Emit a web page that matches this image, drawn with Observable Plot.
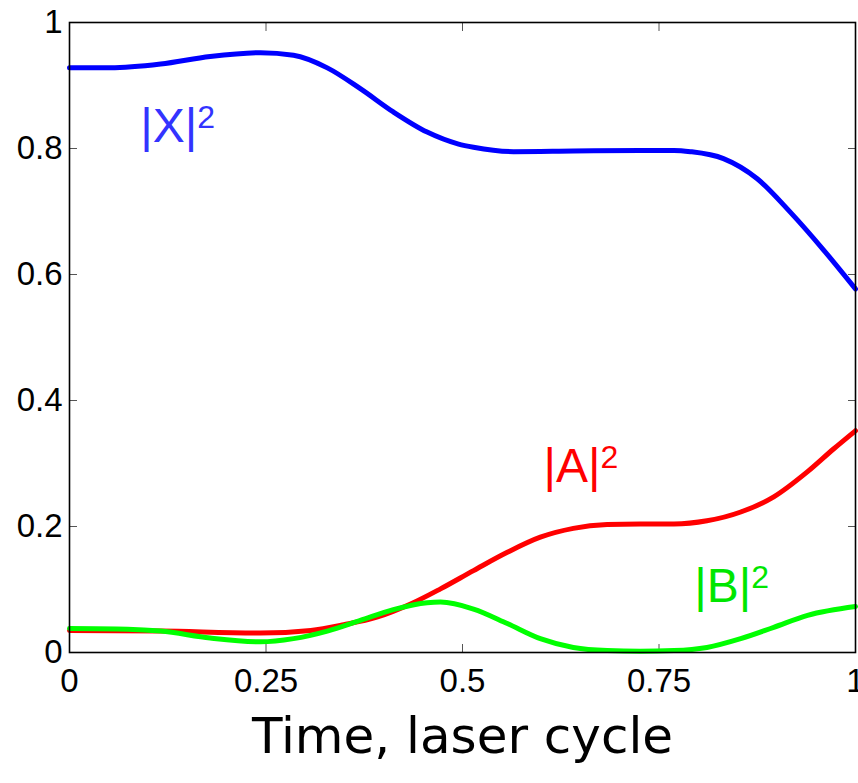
<!DOCTYPE html>
<html>
<head>
<meta charset="utf-8">
<script src="https://cdn.jsdelivr.net/npm/d3@7"></script>
<script src="https://cdn.jsdelivr.net/npm/@observablehq/plot@0.6"></script>
<style>
  html, body { margin: 0; padding: 0; background: #fff; }
  #chart svg { display: block; }
</style>
</head>
<body>
<div id="chart"></div>
<script>
// Populations over one laser cycle
const tX = [0, 0.052, 0.116, 0.179, 0.243, 0.285, 0.328, 0.370, 0.412, 0.455, 0.495, 0.514, 0.565, 0.641, 0.726, 0.769, 0.790, 0.832, 0.875, 0.917, 0.960, 1.0];
const popX = [0.928, 0.928, 0.934, 0.946, 0.952, 0.948, 0.928, 0.895, 0.858, 0.826, 0.807, 0.802, 0.795, 0.796, 0.797, 0.797, 0.795, 0.784, 0.752, 0.699, 0.638, 0.577];

const tA = [0, 0.116, 0.243, 0.307, 0.349, 0.391, 0.434, 0.472, 0.514, 0.557, 0.599, 0.641, 0.684, 0.726, 0.769, 0.811, 0.854, 0.896, 0.939, 0.972, 1.0];
const popA = [0.035, 0.034, 0.031, 0.035, 0.044, 0.056, 0.077, 0.101, 0.130, 0.159, 0.183, 0.197, 0.203, 0.204, 0.204, 0.209, 0.223, 0.247, 0.287, 0.323, 0.352];

const tB = [0, 0.074, 0.116, 0.179, 0.243, 0.285, 0.328, 0.370, 0.412, 0.455, 0.472, 0.514, 0.557, 0.599, 0.641, 0.684, 0.726, 0.769, 0.811, 0.854, 0.896, 0.939, 1.0];
const popB = [0.038, 0.037, 0.034, 0.023, 0.017, 0.022, 0.034, 0.051, 0.068, 0.079, 0.080, 0.069, 0.046, 0.022, 0.008, 0.003, 0.002, 0.003, 0.008, 0.022, 0.040, 0.059, 0.073];

const xTicks = [0, 0.25, 0.5, 0.75, 1];
const xTickLabels = ["0", "0.25", "0.5", "0.75", "1"];
const yTicks = [0, 0.2, 0.4, 0.6, 0.8, 1];
const yTickLabels = ["0", "0.2", "0.4", "0.6", "0.8", "1"];

// Curve labels: base text, exponent, anchor time, anchor population, colour
const labelBase = ["|X|", "|A|", "|B|"];
const labelExp = ["2", "2", "2"];
const labelT = [0.090, 0.603, 0.795];
const labelV = [0.81, 0.27, 0.08];
const labelColor = ["#3333ff", "#ff0000", "#00e600"];

const xTitle = "Time, laser cycle";

const toRows = (ts, vs) => ts.map((t, i) => ({t, v: vs[i]}));
const rowsX = toRows(tX, popX);
const rowsA = toRows(tA, popA);
const rowsB = toRows(tB, popB);
const labels = labelBase.map((s, i) => ({s, e: labelExp[i], t: labelT[i], v: labelV[i], c: labelColor[i]}));

const sans = "Liberation Sans, Arial, sans-serif";
const tickFont = {fontSize: 33, fontFamily: sans};

const chart = Plot.plot({
  width: 858,
  height: 783,
  marginLeft: 69,
  marginTop: 22,
  marginRight: 3,
  marginBottom: 131,
  style: {fontFamily: sans, color: "black", background: "white"},
  x: {domain: [0, 1]},
  y: {domain: [0, 1]},
  marks: [
    Plot.axisX({ticks: xTicks, tickFormat: (d, i) => xTickLabels[i], tickSize: -8, tickPadding: 24, label: null, stroke: "#555", ...tickFont}),
    Plot.axisX({anchor: "top", ticks: xTicks, tickFormat: () => "", tickSize: -8, label: null, stroke: "#555"}),
    Plot.axisY({ticks: yTicks, tickFormat: (d, i) => yTickLabels[i], tickSize: -8, tickPadding: 15, label: null, stroke: "#555", ...tickFont}),
    Plot.axisY({anchor: "right", ticks: yTicks, tickFormat: () => "", tickSize: -8, label: null, stroke: "#555"}),
    Plot.lineY(rowsX, {x: "t", y: "v", stroke: "#0000ff", strokeWidth: 5, curve: "monotone-x"}),
    Plot.lineY(rowsA, {x: "t", y: "v", stroke: "#ff0000", strokeWidth: 5, curve: "monotone-x"}),
    Plot.lineY(rowsB, {x: "t", y: "v", stroke: "#00ff00", strokeWidth: 5, curve: "monotone-x"}),
    Plot.frame({stroke: "black", strokeWidth: 1.6}),
    // base of each label, then its exponent raised after it
    Plot.text(labels, {x: "t", y: "v", text: "s", fill: "c", textAnchor: "start", lineAnchor: "bottom", fontSize: 48, fontFamily: sans}),
    Plot.text(labels, {x: "t", y: "v", text: "e", fill: "c", textAnchor: "start", lineAnchor: "bottom", dx: 57, dy: -14, fontSize: 32, fontFamily: sans}),
    Plot.text([xTitle], {text: d => d, frameAnchor: "bottom", dy: 100, fontSize: 50, fontFamily: "DejaVu Sans, sans-serif", fill: "black"})
  ]
});
document.getElementById("chart").appendChild(chart);
</script>
</body>
</html>
